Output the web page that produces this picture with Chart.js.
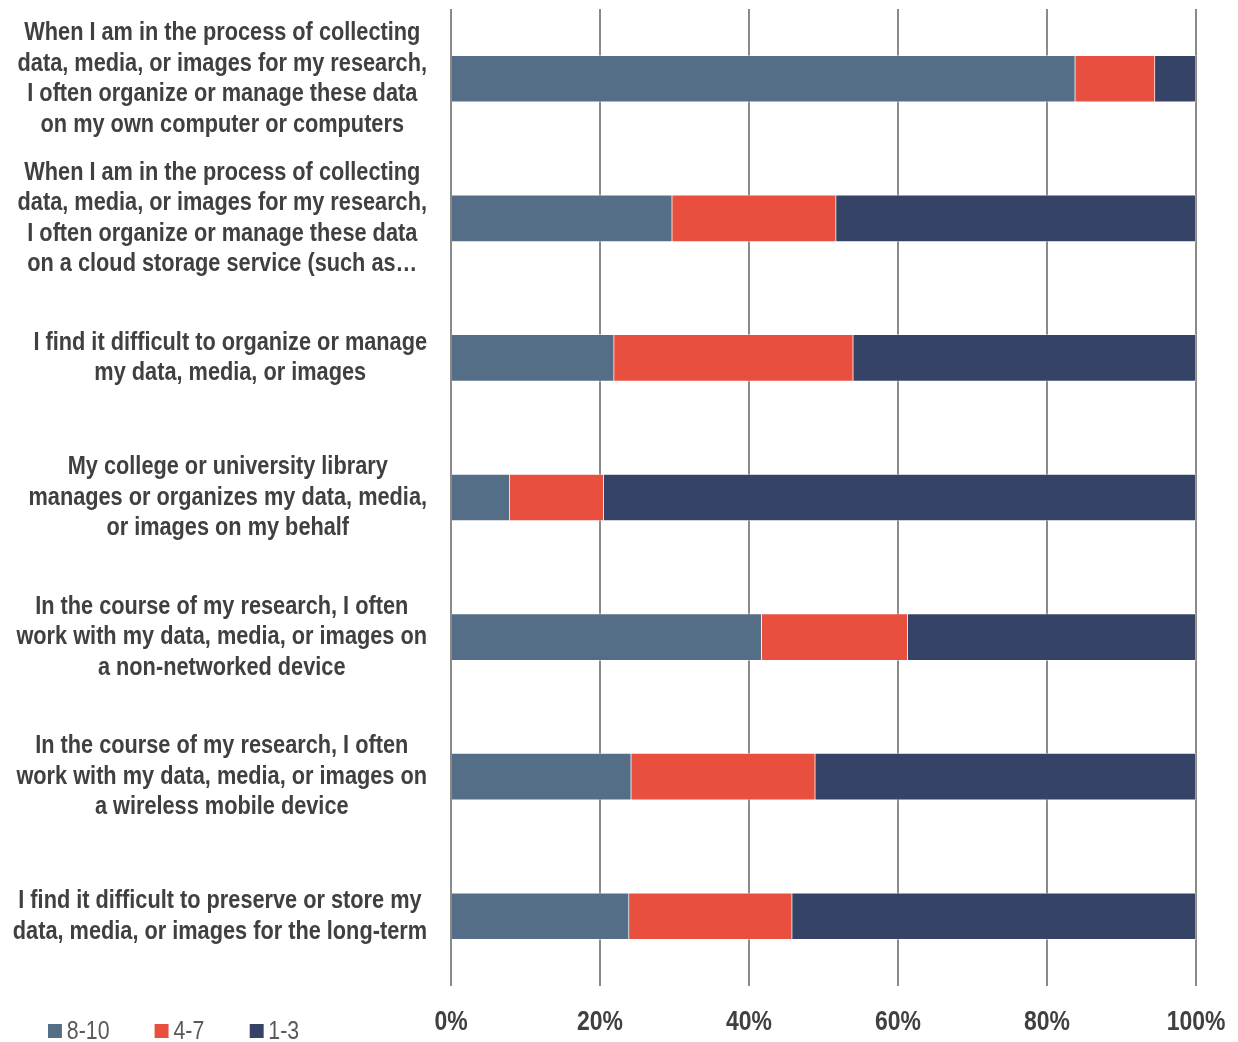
<!DOCTYPE html>
<html lang="en">
<head>
<meta charset="UTF-8">
<title>Research data management survey</title>
<script src="https://cdn.jsdelivr.net/npm/chart.js"></script>
<style>
    html, body { margin: 0; padding: 0; background: #fff; }
    .wrap { position: relative; width: 1238px; height: 1042px; }
    /* no narrow font installed: squeeze Liberation Sans to Arial Narrow width */
    .legend { position: absolute; left: 48px; top: 1015px; display: flex; align-items: flex-start;
              transform: scaleX(0.82); transform-origin: left top;
              font-family: "Liberation Sans", Arial, sans-serif;
              font-size: 26px; line-height: 30px; color: #595959; white-space: nowrap; }
    .legend .item { display: flex; align-items: flex-start; margin-right: 55px; }
    .legend i { display: inline-block; width: 17px; height: 14px; margin-top: 9px; margin-right: 6px; }
</style>
</head>
<body>
<div class="wrap">
    <canvas id="chart" width="1238" height="1042"></canvas>
    <div class="legend" id="legend"></div>
</div>
<script>
    const categories = [
        ['When I am in the process of collecting', 'data, media, or images for my research,', 'I often organize or manage these data', 'on my own computer or computers'],
        ['When I am in the process of collecting', 'data, media, or images for my research,', 'I often organize or manage these data', 'on a cloud storage service (such as\u2026'],
        ['I find it difficult to organize or manage', 'my data, media, or images'],
        ['My college or university library', 'manages or organizes my data, media,', 'or images on my behalf'],
        ['In the course of my research, I often', 'work with my data, media, or images on', 'a non-networked device'],
        ['In the course of my research, I often', 'work with my data, media, or images on', 'a wireless mobile device'],
        ['I find it difficult to preserve or store my', 'data, media, or images for the long-term']
    ];

    const seriesNames = ['8-10', '4-7', '1-3'];
    const high = [83.8, 29.7, 21.9, 7.9, 41.7, 24.2, 23.9];
    const mid = [10.7, 22.0, 32.1, 12.6, 19.6, 24.7, 21.9];
    const low = [5.5, 48.3, 46.0, 79.5, 38.7, 51.1, 54.2];
    const colors = ['#556e88', '#e94f3e', '#354367'];

    const xTicks = [0, 20, 40, 60, 80, 100];

    const fontFamily = '"Liberation Sans", Arial, sans-serif';
    const NARROW = 0.82;
    const LABEL_PAD = 24;

    const canvas = document.getElementById('chart');
    const ctx = canvas.getContext('2d');

    // squeeze all canvas text horizontally so it looks like Arial Narrow
    const origFill = ctx.fillText.bind(ctx);
    const origMeasure = ctx.measureText.bind(ctx);
    ctx.fillText = function (text, x, y) {
        ctx.save();
        ctx.translate(x, y);
        ctx.scale(NARROW, 1);
        origFill(text, 0, 0);
        ctx.restore();
    };
    ctx.measureText = function (text) {
        const m = origMeasure(text);
        return { width: m.width * NARROW };
    };

    // each label block sits flush right, its lines centred inside the block
    const blockCentre = {
        id: 'blockCentre',
        beforeDraw(chart) {
            const s = chart.scales.y;
            const items = s.getLabelItems();
            items.forEach(item => {
                ctx.save();
                ctx.font = item.font.string;
                const lines = Array.isArray(item.label) ? item.label : [item.label];
                const w = Math.max(...lines.map(l => ctx.measureText(l).width));
                ctx.restore();
                item.options.textAlign = 'center';
                item.options.translation[0] = s.right - LABEL_PAD - w / 2;
            });
        }
    };

    const datasets = [high, mid, low].map((vals, i) => ({
        label: seriesNames[i],
        data: vals,
        backgroundColor: colors[i],
        borderColor: 'rgba(255,255,255,0.45)',
        borderWidth: 1,
        barThickness: 47
    }));

    new Chart(ctx, {
        type: 'bar',
        data: { labels: categories, datasets: datasets },
        plugins: [blockCentre],
        options: {
            indexAxis: 'y',
            responsive: false,
            animation: false,
            layout: { padding: { top: 9, right: 42, bottom: 0, left: 0 } },
            plugins: { legend: { display: false }, tooltip: { enabled: false } },
            scales: {
                x: {
                    stacked: true,
                    min: 0,
                    max: 100,
                    afterBuildTicks: axis => { axis.ticks = xTicks.map(v => ({ value: v })); },
                    grid: { color: '#8a8a8a', lineWidth: 2, drawTicks: false },
                    border: { display: false },
                    ticks: {
                        padding: 19,
                        color: '#404040',
                        font: { family: fontFamily, size: 28, weight: 'bold' },
                        callback: v => v + '%'
                    },
                    afterFit: axis => {
                        axis.height = 56;
                        axis.paddingLeft = 0;
                        axis.paddingRight = 0;
                    }
                },
                y: {
                    stacked: true,
                    grid: { display: false },
                    border: { display: false },
                    ticks: {
                        padding: LABEL_PAD,
                        crossAlign: 'center',
                        color: '#404040',
                        font: { family: fontFamily, size: 26.5, weight: 'bold', lineHeight: 1.15 }
                    },
                    afterFit: axis => {
                        axis.width = 451;
                        axis.paddingTop = 0;
                        axis.paddingBottom = 0;
                    }
                }
            }
        }
    });

    const legend = document.getElementById('legend');
    seriesNames.forEach((name, i) => {
        const item = document.createElement('span');
        item.className = 'item';
        item.innerHTML = '<i style="background:' + colors[i] + '"></i>' + name;
        legend.appendChild(item);
    });
</script>
</body>
</html>
